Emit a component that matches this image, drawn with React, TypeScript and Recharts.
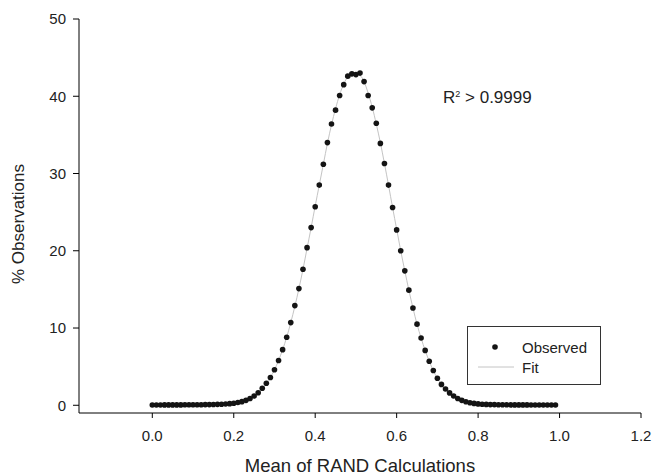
import React from 'react';
import {
  ComposedChart,
  Scatter,
  Line,
  XAxis,
  YAxis,
  Legend,
} from 'recharts';

// % of observations per 0.01 bin, bins 0.00 .. 0.99
const observed = [
  0.04, 0.04, 0.04, 0.05, 0.05, 0.05, 0.05, 0.05, 0.06, 0.06,
  0.06, 0.07, 0.07, 0.08, 0.09, 0.1, 0.12, 0.14, 0.17, 0.21,
  0.27, 0.35, 0.47, 0.64, 0.88, 1.2, 1.62, 2.2, 2.85, 3.6,
  4.6, 5.8, 7.2, 8.8, 10.7, 12.9, 15.1, 17.6, 20.4, 23.0,
  25.7, 28.5, 31.2, 34.0, 36.4, 38.2, 40.1, 41.5, 42.6, 42.9,
  42.8, 43.0, 41.9, 40.1, 38.5, 36.5, 33.9, 31.3, 28.5, 25.6,
  22.7, 20.0, 17.4, 14.9, 12.6, 10.5, 8.7, 7.1, 5.7, 4.5,
  3.5, 2.7, 2.1, 1.6, 1.2, 0.88, 0.64, 0.46, 0.33, 0.24,
  0.18, 0.14, 0.11, 0.09, 0.08, 0.07, 0.06, 0.06, 0.05, 0.05,
  0.05, 0.05, 0.05, 0.04, 0.04, 0.04, 0.04, 0.04, 0.04, 0.04,
];

const fitted = [
  0.02, 0.02, 0.02, 0.02, 0.03, 0.03, 0.03, 0.04, 0.04, 0.05,
  0.05, 0.06, 0.07, 0.08, 0.09, 0.1, 0.12, 0.15, 0.18, 0.22,
  0.28, 0.36, 0.48, 0.65, 0.89, 1.2, 1.63, 2.18, 2.85, 3.65,
  4.6, 5.8, 7.2, 8.8, 10.7, 12.8, 15.1, 17.6, 20.3, 23.0,
  25.8, 28.5, 31.2, 33.9, 36.3, 38.4, 40.2, 41.6, 42.5, 42.9,
  42.9, 42.7, 41.9, 40.4, 38.6, 36.4, 34.0, 31.3, 28.5, 25.6,
  22.8, 20.0, 17.4, 14.9, 12.6, 10.5, 8.7, 7.1, 5.7, 4.5,
  3.5, 2.7, 2.1, 1.6, 1.2, 0.88, 0.64, 0.46, 0.33, 0.24,
  0.17, 0.12, 0.09, 0.07, 0.05, 0.04, 0.03, 0.03, 0.02, 0.02,
  0.02, 0.02, 0.02, 0.02, 0.02, 0.02, 0.02, 0.02, 0.02, 0.02,
];

const xTicks = [0, 0.2, 0.4, 0.6, 0.8, 1.0, 1.2];
const yTicks = [0, 10, 20, 30, 40, 50];

const FONT = '"Liberation Sans", Arial, sans-serif';
const INK = '#222';

const data = observed.map((v, i) => ({
  x: i / 100,
  observed: v,
  fit: fitted[i],
}));

const Dot = (props: any) => {
  if (props.cx == null || props.cy == null) return null;
  return <circle cx={props.cx} cy={props.cy} r={2.8} fill="#141414" />;
};

const XTitle = (props: any) => {
  const vb = props.viewBox || { x: 79, y: 413, width: 562, height: 62 };
  return (
    <text
      x={vb.x + vb.width / 2}
      y={vb.y + vb.height - 3}
      textAnchor="middle"
      fontSize={18.5}
      fontFamily={FONT}
      fill={INK}
    >
      Mean of RAND Calculations
    </text>
  );
};

const YTitle = () => {
  const cx = 18;
  const cy = 224;
  return (
    <text
      x={cx}
      y={cy}
      transform={`rotate(-90 ${cx} ${cy})`}
      textAnchor="middle"
      dominantBaseline="central"
      fontSize={17}
      fontFamily={FONT}
      fill={INK}
    >
      % Observations
    </text>
  );
};

const LegendBox = () => (
  <div
    style={{
      width: 134,
      height: 59,
      border: '1px solid #333',
      background: '#fff',
      boxSizing: 'border-box',
    }}
  >
    <svg width={132} height={57}>
      <circle cx={27} cy={20} r={2.8} fill="#141414" />
      <text x={54} y={20} dominantBaseline="central" fontSize={15} fontFamily={FONT} fill={INK}>
        Observed
      </text>
      <line x1={10} y1={40} x2={46} y2={40} stroke="#c4c4c4" strokeWidth={1} />
      <text x={54} y={40} dominantBaseline="central" fontSize={15} fontFamily={FONT} fill={INK}>
        Fit
      </text>
    </svg>
  </div>
);

const App = () => {
  return (
    <div style={{ position: 'absolute', left: 0, top: 0, width: 653, height: 475, background: '#fff' }}>
      <ComposedChart
        width={653}
        height={475}
        data={data}
        margin={{ top: 19, right: 12, left: 0, bottom: 0 }}
      >
        <XAxis
          dataKey="x"
          type="number"
          domain={[-0.18, 1.2]}
          allowDataOverflow
          ticks={xTicks}
          tickFormatter={(v: number) => v.toFixed(1)}
          height={62}
          tickSize={5}
          tickMargin={12}
          stroke="#000"
          tick={{ fill: INK, fontSize: 15, fontFamily: FONT }}
          tickLine={{ stroke: '#000' }}
          label={<XTitle />}
        />
        <YAxis
          type="number"
          domain={[-1, 50]}
          allowDataOverflow
          ticks={yTicks}
          width={79}
          tickSize={6}
          tickMargin={7}
          stroke="#000"
          tick={{ fill: INK, fontSize: 15, fontFamily: FONT }}
          tickLine={{ stroke: '#000' }}
          label={<YTitle />}
        />
        <Legend
          layout="horizontal"
          verticalAlign="middle"
          align="center"
          content={<LegendBox />}
          wrapperStyle={{ position: 'absolute', left: 467, top: 326, width: 134, height: 59 }}
        />
        <Scatter
          name="Observed"
          dataKey="observed"
          shape={<Dot />}
          isAnimationActive={false}
        />
        <Line
          name="Fit"
          dataKey="fit"
          type="monotone"
          stroke="#c4c4c4"
          strokeWidth={1}
          dot={false}
          activeDot={false}
          isAnimationActive={false}
        />
      </ComposedChart>
      <div
        style={{
          position: 'absolute',
          left: 443,
          top: 88,
          fontFamily: FONT,
          fontSize: 17,
          color: INK,
          whiteSpace: 'nowrap',
        }}
      >
        R<sup style={{ fontSize: 9, verticalAlign: 'top', position: 'relative', top: 1 }}>2</sup> &gt; 0.9999
      </div>
    </div>
  );
};

export default App;
